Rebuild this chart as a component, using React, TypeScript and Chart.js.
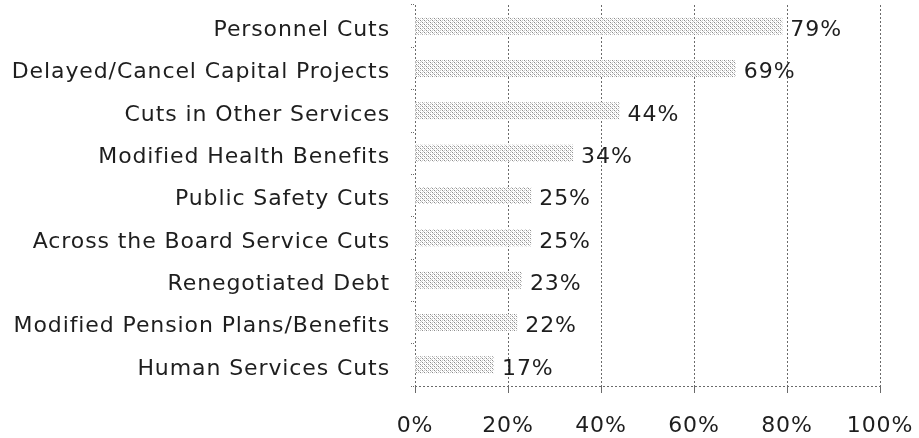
import React, { useEffect, useRef } from "react";
import { Chart, registerables } from "chart.js";

Chart.register(...registerables);

const categories = [
  "Personnel Cuts",
  "Delayed/Cancel Capital Projects",
  "Cuts in Other Services",
  "Modified Health Benefits",
  "Public Safety Cuts",
  "Across the Board Service Cuts",
  "Renegotiated Debt",
  "Modified Pension Plans/Benefits",
  "Human Services Cuts",
];
const values = [79, 69, 44, 34, 25, 25, 23, 22, 17];
const xMin = 0;
const xMax = 100;
const xStep = 20;

const FONT = '"DejaVu Sans", Verdana, sans-serif';
const TEXT = "#1e1e1e";
const GRID = "#6a6a6a";
const SPACING = "0.9px";

function makePattern(): CanvasPattern | string {
  const c = document.createElement("canvas");
  c.width = 4;
  c.height = 4;
  const g = c.getContext("2d");
  if (!g) return "#e0e0e0";
  g.fillStyle = "#ffffff";
  g.fillRect(0, 0, 4, 4);
  g.fillStyle = "#8c8c8c";
  g.fillRect(0, 0, 1, 1);
  g.fillRect(2, 2, 1, 1);
  g.fillStyle = "#c8c8c8";
  g.fillRect(2, 0, 1, 1);
  g.fillRect(1, 1, 1, 1);
  g.fillRect(0, 2, 1, 1);
  g.fillRect(3, 3, 1, 1);
  return g.createPattern(c, "repeat") || "#e0e0e0";
}

const letterSpacing = {
  id: "letterSpacing",
  beforeLayout(chart: any) {
    (chart.ctx as any).letterSpacing = SPACING;
  },
  beforeDraw(chart: any) {
    (chart.ctx as any).letterSpacing = SPACING;
  },
};

const valueLabels = {
  id: "valueLabels",
  afterDatasetsDraw(chart: any) {
    const ctx = chart.ctx;
    const meta = chart.getDatasetMeta(0);
    ctx.save();
    (ctx as any).letterSpacing = SPACING;
    ctx.font = `22px ${FONT}`;
    ctx.fillStyle = TEXT;
    ctx.textAlign = "left";
    ctx.textBaseline = "middle";
    meta.data.forEach((el: any, i: number) => {
      ctx.fillText(`${values[i]}%`, el.x + 8, el.y + 4);
    });
    ctx.restore();
  },
};

export default function App() {
  const ref = useRef<HTMLCanvasElement>(null);

  useEffect(() => {
    if (!ref.current) return;
    const chart = new Chart(ref.current, {
      type: "bar",
      data: {
        labels: categories,
        datasets: [
          {
            data: values,
            backgroundColor: makePattern() as any,
            borderWidth: 0,
            barPercentage: 0.4,
            categoryPercentage: 1,
          },
        ],
      },
      options: {
        indexAxis: "y",
        animation: false,
        responsive: true,
        maintainAspectRatio: false,
        layout: { padding: { top: 5, right: 39, left: 0, bottom: 0 } },
        plugins: {
          legend: { display: false },
          tooltip: { enabled: false },
        },
        scales: {
          x: {
            min: xMin,
            max: xMax,
            afterFit: (s: any) => {
              s.height = 52;
              s.paddingLeft = 0;
              s.paddingRight = 0;
            },
            ticks: {
              stepSize: xStep,
              callback: (v: any) => `${v}%`,
              font: { family: FONT, size: 22 },
              color: TEXT,
              padding: 20,
              maxRotation: 0,
            },
            grid: {
              color: GRID,
              tickColor: GRID,
              tickLength: 7,
              lineWidth: 1,
              tickBorderDash: [],
            },
            border: { display: false, dash: [2, 2] },
          },
          y: {
            afterFit: (s: any) => {
              s.width = 415;
              s.paddingTop = 0;
              s.paddingBottom = 0;
            },
            ticks: {
              font: { family: FONT, size: 22 },
              color: TEXT,
              padding: 21,
              labelOffset: 4,
              autoSkip: false,
            },
            grid: {
              offset: true,
              color: (c: any) => (c.type === "tick" ? "rgba(0,0,0,0)" : GRID),
              tickColor: GRID,
              tickLength: 4,
              lineWidth: 1,
              tickBorderDash: [1, 1],
            },
            border: { display: false, dash: [2, 2] },
          },
        },
      },
      plugins: [letterSpacing, valueLabels],
    });
    return () => chart.destroy();
  }, []);

  return (
    <div
      style={{
        position: "fixed",
        left: 0,
        top: 0,
        width: 919,
        height: 438,
        background: "#ffffff",
      }}
    >
      <canvas ref={ref} />
    </div>
  );
}
